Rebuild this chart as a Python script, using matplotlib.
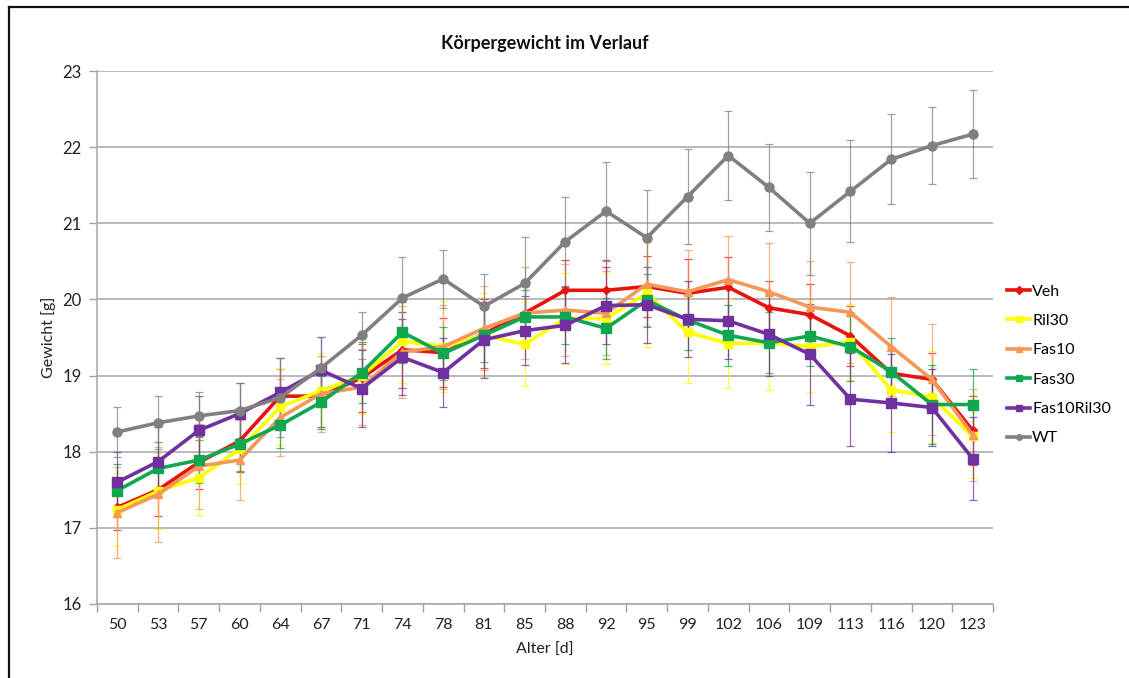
import matplotlib
matplotlib.use("Agg")
import matplotlib.pyplot as plt
from matplotlib.lines import Line2D
import numpy as np

days = [50, 53, 57, 60, 64, 67, 71, 74, 78, 81, 85, 88, 92, 95, 99, 102, 106, 109, 113, 116, 120, 123]

veh = [17.27, 17.50, 17.86, 18.14, 18.73, 18.73, 18.97, 19.34, 19.30, 19.55, 19.82, 20.12, 20.12, 20.17, 20.08, 20.16, 19.89, 19.80, 19.52, 19.03, 18.95, 18.28]
ril30 = [17.24, 17.48, 17.66, 18.03, 18.59, 18.80, 19.00, 19.45, 19.38, 19.53, 19.41, 19.75, 19.75, 20.08, 19.57, 19.42, 19.43, 19.38, 19.44, 18.81, 18.72, 18.20]
fas10 = [17.20, 17.44, 17.81, 17.89, 18.45, 18.76, 18.85, 19.31, 19.38, 19.62, 19.82, 19.86, 19.82, 20.20, 20.10, 20.26, 20.10, 19.90, 19.83, 19.38, 18.95, 18.22]
fas30 = [17.49, 17.78, 17.89, 18.10, 18.35, 18.65, 19.04, 19.57, 19.29, 19.53, 19.77, 19.77, 19.62, 19.99, 19.73, 19.53, 19.43, 19.52, 19.38, 19.05, 18.62, 18.62]
fas10ril30 = [17.60, 17.87, 18.28, 18.50, 18.78, 19.07, 18.83, 19.24, 19.04, 19.47, 19.59, 19.66, 19.92, 19.93, 19.74, 19.72, 19.54, 19.28, 18.69, 18.64, 18.58, 17.91]
wt = [18.26, 18.38, 18.47, 18.54, 18.71, 19.10, 19.53, 20.02, 20.27, 19.91, 20.21, 20.76, 21.16, 20.81, 21.35, 21.89, 21.47, 21.00, 21.42, 21.84, 22.02, 22.17]

veh_err = [0.30, 0.35, 0.35, 0.40, 0.35, 0.40, 0.45, 0.50, 0.45, 0.45, 0.40, 0.40, 0.40, 0.40, 0.45, 0.40, 0.35, 0.40, 0.40, 0.35, 0.35, 0.45]
ril30_err = [0.48, 0.50, 0.49, 0.45, 0.50, 0.50, 0.50, 0.55, 0.60, 0.55, 0.55, 0.60, 0.60, 0.70, 0.67, 0.58, 0.62, 0.60, 0.50, 0.55, 0.60, 0.55]
fas10_err = [0.60, 0.62, 0.56, 0.53, 0.50, 0.50, 0.50, 0.60, 0.55, 0.55, 0.60, 0.60, 0.55, 0.55, 0.55, 0.57, 0.64, 0.60, 0.66, 0.65, 0.73, 0.60]
fas30_err = [0.35, 0.35, 0.30, 0.35, 0.30, 0.35, 0.40, 0.40, 0.35, 0.35, 0.35, 0.35, 0.40, 0.35, 0.40, 0.40, 0.40, 0.40, 0.45, 0.45, 0.52, 0.47]
fas10ril30_err = [0.40, 0.45, 0.45, 0.40, 0.45, 0.44, 0.50, 0.50, 0.45, 0.50, 0.45, 0.50, 0.50, 0.50, 0.50, 0.50, 0.55, 0.66, 0.61, 0.64, 0.50, 0.55]
wt_err = [0.33, 0.35, 0.32, 0.36, 0.52, 0.41, 0.31, 0.54, 0.38, 0.42, 0.61, 0.59, 0.65, 0.63, 0.62, 0.58, 0.57, 0.68, 0.67, 0.59, 0.51, 0.58]

series_names = ["Veh", "Ril30", "Fas10", "Fas30", "Fas10Ril30", "WT"]
series_vals = [veh, ril30, fas10, fas30, fas10ril30, wt]
series_errs = [veh_err, ril30_err, fas10_err, fas30_err, fas10ril30_err, wt_err]
colors = ["#E8130F", "#FFFF00", "#F4985A", "#11A650", "#7030A0", "#808080"]
markers = ["D", "s", "^", "s", "s", "o"]
msizes = [4.5, 6, 6, 6.5, 6.5, 6.5]

title = "Körpergewicht im Verlauf"
xlabel = "Alter [d]"
ylabel = "Gewicht [g]"

plt.rcParams['font.family'] = ['Lato', 'DejaVu Sans']

fig = plt.figure(figsize=(11.29, 6.78), dpi=100)
ax = fig.add_axes([97 / 1129, 1 - 604 / 678, (993 - 97) / 1129, (604 - 71) / 678])

x = np.arange(len(days))
for name, vals, err, c, m, ms in zip(series_names, series_vals, series_errs, colors, markers, msizes):
    ax.errorbar(x, vals, yerr=err, fmt='none', ecolor=c, elinewidth=0.9, capsize=3,
                capthick=0.9, alpha=0.75, zorder=2)
    ax.plot(x, vals, color=c, lw=2.6, marker=m, markersize=ms, markeredgecolor=c,
            label=name, zorder=3, solid_joinstyle='miter')

ax.set_xlim(-0.5, len(days) - 0.5)
ax.set_ylim(16, 23)
ax.set_yticks(range(16, 24))
ax.set_xticks(x)
ax.set_xticklabels([str(d) for d in days])
ax.set_xticks(np.arange(-0.5, len(days), 1.0), minor=True)
ax.tick_params(axis='x', which='major', length=0, pad=10, labelsize=11.5, colors='#222222')
ax.tick_params(axis='x', which='minor', length=6, width=1, color='#A0A0A0', direction='out')
ax.tick_params(axis='y', which='major', length=6, width=1, color='#A0A0A0', labelsize=12,
               pad=5, labelcolor='#222222')
ax.grid(axis='y', color='#A6A6A6', lw=1.1, zorder=0)
ax.set_axisbelow(True)
for s in ['top', 'right']:
    ax.spines[s].set_visible(False)
for s in ['left', 'bottom']:
    ax.spines[s].set_color('#A6A6A6')
    ax.spines[s].set_linewidth(1.1)

ax.set_title(title, fontsize=13, fontweight='bold', pad=16, color='#111111')
ax.set_xlabel(xlabel, fontsize=11.5, labelpad=8, color='#222222')
ax.set_ylabel(ylabel, fontsize=11.5, labelpad=5, color='#222222')

leg = ax.legend(loc='center left', bbox_to_anchor=(1001 / 1129, 1 - 365 / 678),
                bbox_transform=fig.transFigure, frameon=False, fontsize=11.5,
                handlelength=1.4, handletextpad=0.15, labelspacing=0.95, borderaxespad=0)
for h in leg.legend_handles:
    h.set_markersize(4)

# outer frame (top and left edges visible)
fig.add_artist(Line2D([8.5 / 1129, 8.5 / 1129], [0, 1 - 6.5 / 678], transform=fig.transFigure,
                      color='#111111', lw=1.6))
fig.add_artist(Line2D([8.5 / 1129, 1], [1 - 6.5 / 678, 1 - 6.5 / 678], transform=fig.transFigure,
                      color='#111111', lw=1.6))

fig.savefig("out.png", dpi=100)
